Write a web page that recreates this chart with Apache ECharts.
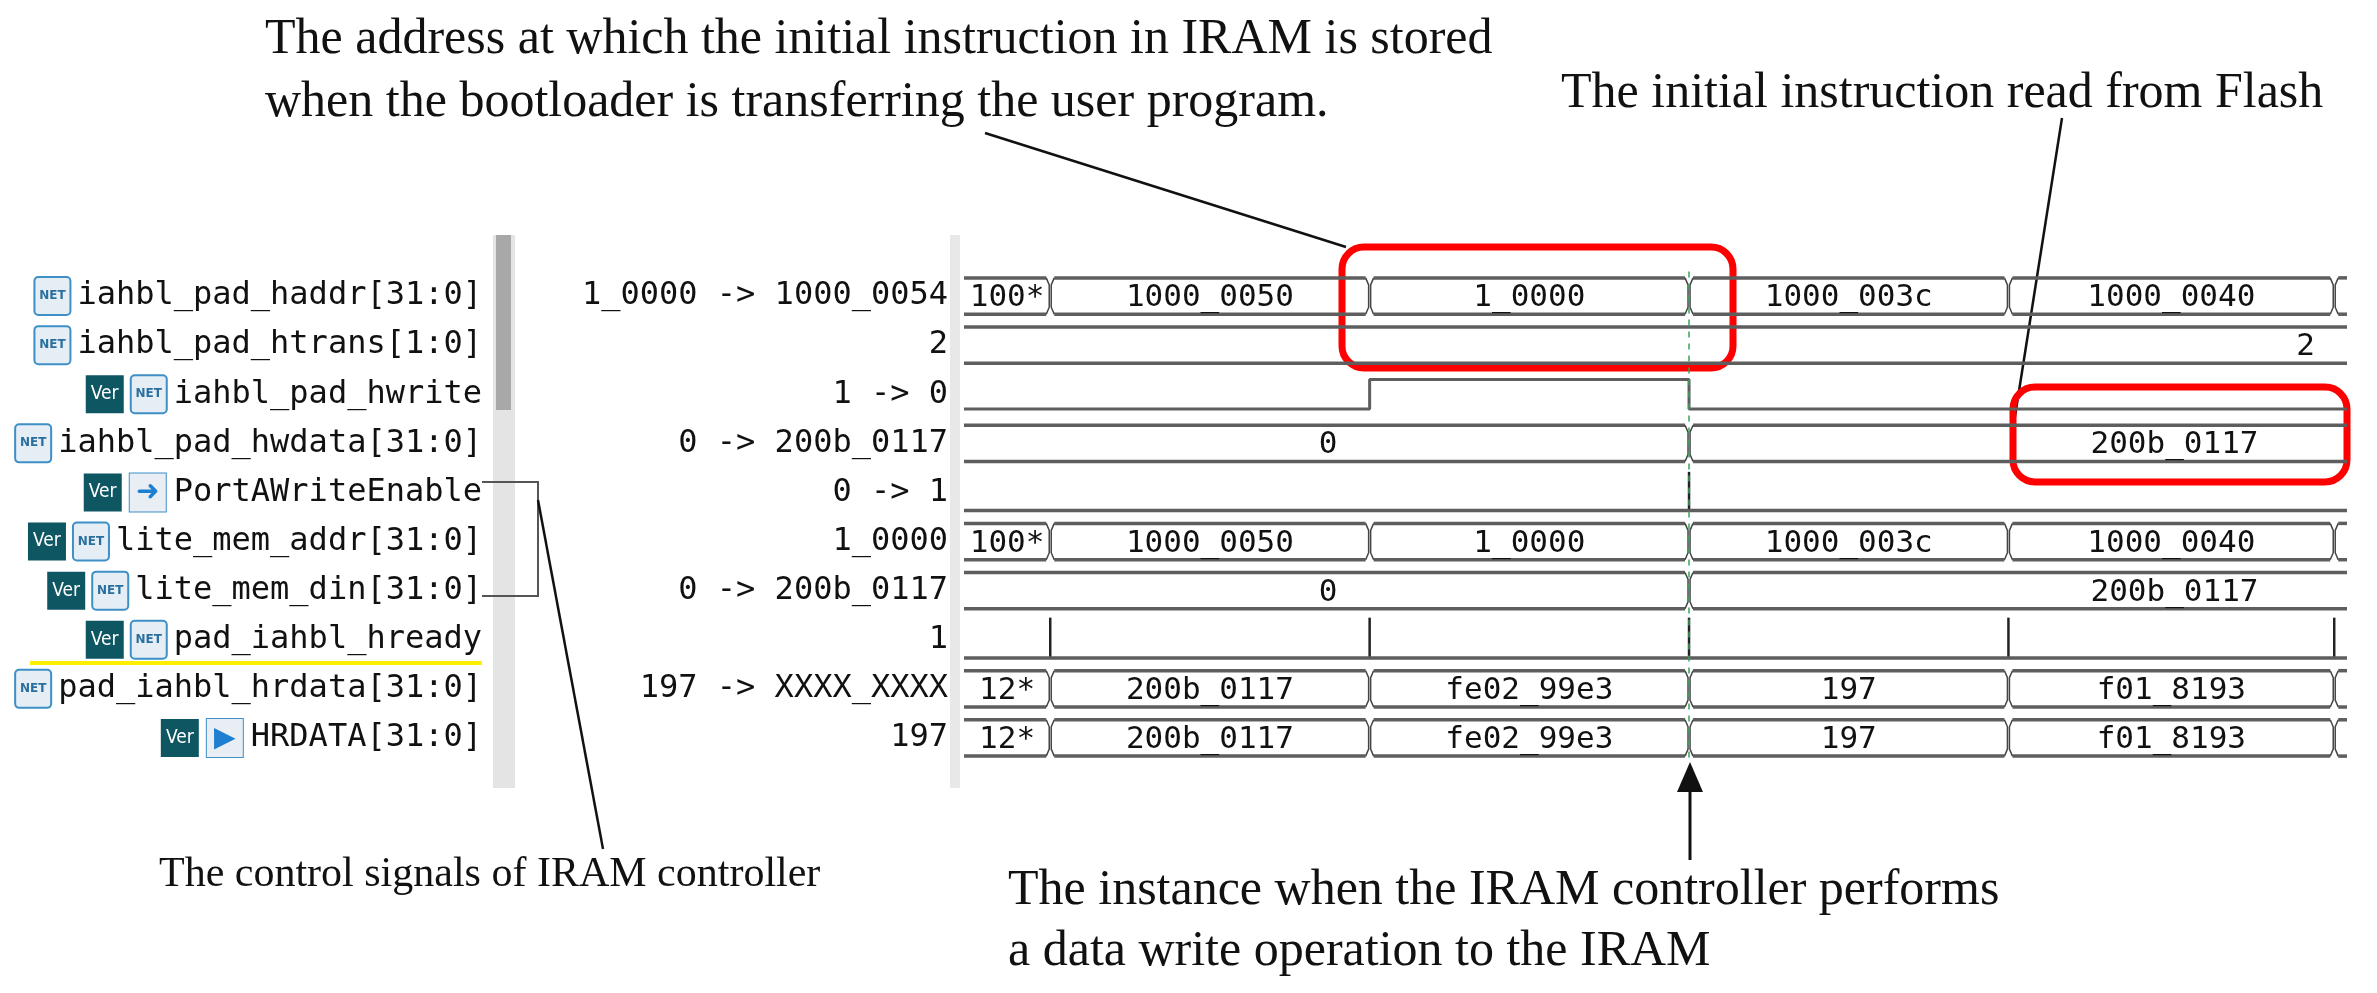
<!DOCTYPE html>
<html><head><meta charset="utf-8">
<script src="https://cdn.jsdelivr.net/npm/echarts@6/dist/echarts.min.js"></script>
<style>html,body{margin:0;padding:0;background:#fff}#c{width:2377px;height:993px}</style>
</head><body><div id="c"></div>
<script>
// ---- data ----
const signalNames = ['iahbl_pad_haddr[31:0]','iahbl_pad_htrans[1:0]','iahbl_pad_hwrite','iahbl_pad_hwdata[31:0]','PortAWriteEnable','lite_mem_addr[31:0]','lite_mem_din[31:0]','pad_iahbl_hready','pad_iahbl_hrdata[31:0]','HRDATA[31:0]'];
const signalIcons = [['net'],['net'],['ver','net'],['net'],['ver','pin'],['ver','net'],['ver','net'],['ver','net'],['net'],['ver','pout']];
const cursorValues = ['1_0000 -> 1000_0054','2','1 -> 0','0 -> 200b_0117','0 -> 1','1_0000','0 -> 200b_0117','1','197 -> XXXX_XXXX','197'];
const tStart = -0.27, tEnd = 4.06, tCursor = 2;
const addrBounds = [-0.27, 0, 1, 2, 3, 4.02, 4.06];
const haddrVals = ['100*','1000_0050','1_0000','1000_003c','1000_0040',''];
const memAddrVals = ['100*','1000_0050','1_0000','1000_003c','1000_0040',''];
const hrdataVals = ['12*','200b_0117','fe02_99e3','197','f01_8193',''];
const HRDATAVals = ['12*','200b_0117','fe02_99e3','197','f01_8193',''];
const htransBounds = [-0.27, 4.06]; const htransVals = ['2']; const htransLabelAt = [3.93];
const wdataBounds = [-0.27, 2, 4.06]; const hwdataVals = ['0','200b_0117']; const dinVals = ['0','200b_0117'];
const wdataLabelAt = [0.87, 3.52];
const hwriteTimes = [-0.27, 1, 2, 4.06]; const hwriteLevels = [0, 1, 0, 0];
const portAWETimes = [2];
const hreadyTimes = [0, 1, 2, 3, 4.02];

// ---- build items ----
const busItems = [];
function addBus(row, bounds, vals, labelAt){
  for (let i=0;i<vals.length;i++){
    busItems.push([row, bounds[i], bounds[i+1], vals[i], labelAt ? labelAt[i] : (bounds[i]+bounds[i+1])/2]);
  }
}
addBus(0, addrBounds, haddrVals);
addBus(1, htransBounds, htransVals, htransLabelAt);
addBus(3, wdataBounds, hwdataVals, wdataLabelAt);
addBus(5, addrBounds, memAddrVals);
addBus(6, wdataBounds, dinVals, wdataLabelAt);
addBus(8, addrBounds, hrdataVals);
addBus(9, addrBounds, HRDATAVals);

const H = 0.37;
const hwriteLine = [];
for (let i=0;i<hwriteTimes.length;i++) hwriteLine.push([hwriteTimes[i], 2 + 0.3 - 0.6*hwriteLevels[i]]);
const tickItems = [];
portAWETimes.forEach(t=>tickItems.push([4, t, -0.42, H]));
hreadyTimes.forEach(t=>tickItems.push([7, t, -0.45, H]));

const mono = "'DejaVu Sans Mono', 'Liberation Mono', monospace";
const serif = "'Liberation Serif', 'DejaVu Serif', serif";
const lineCol = '#5e5e5e';

function iconRich(){
  return {
    net:{backgroundColor:'#e6eef5',borderColor:'#3d8fc6',borderWidth:2,borderRadius:3,color:'#2a6f9e',fontSize:12,fontWeight:'bold',width:34,height:36,align:'center',fontFamily:'DejaVu Sans'},
    ver:{backgroundColor:'#0f5663',color:'#ffffff',fontSize:19,width:38,height:38,align:'center',fontFamily:'DejaVu Sans Condensed'},
    pin:{backgroundColor:'#e8eef4',borderColor:'#3d8fc6',borderWidth:1,color:'#1e7fd0',fontSize:28,width:36,height:38,align:'center'},
    pout:{backgroundColor:'#e8eef4',borderColor:'#3d8fc6',borderWidth:1,color:'#1e7fd0',fontSize:28,width:36,height:38,align:'center'},
    sp:{width:8},
    nm:{fontFamily:mono,fontSize:32,color:'#111'}
  };
}
const iconText = {net:'NET',ver:'Ver',pin:'➜',pout:'▶'};

const chart = echarts.init(document.getElementById('c'));
chart.setOption({
  animation:false,
  backgroundColor:'#fff',
  grid:{left:964,right:30,top:271.5,bottom:230.5},
  xAxis:{type:'value',min:tStart,max:tEnd,show:false},
  yAxis:[
    {type:'value',min:-0.5,max:9.5,inverse:true,show:false},
    {type:'category',data:signalNames,inverse:true,position:'left',axisLine:{show:false},axisTick:{show:false},
     axisLabel:{margin:482,align:'right',rich:iconRich(),
       formatter:(v,i)=>signalIcons[i].map(k=>'{'+k+'|'+iconText[k]+'}').join('{sp| }')+'{sp| }{nm|'+v+'}'}},
    {type:'category',data:cursorValues,inverse:true,position:'left',axisLine:{show:false},axisTick:{show:false},
     axisLabel:{margin:16,fontFamily:mono,fontSize:32,color:'#111'}}
  ],
  series:[
    {type:'custom',yAxisIndex:0,data:busItems,clip:false,
     renderItem:function(params,api){
       const row=api.value(0), t0=api.value(1), t1=api.value(2);
       const label=busItems[params.dataIndex][3], lt=busItems[params.dataIndex][4];
       const a=api.coord([t0,row-H]), b=api.coord([t1,row+H]);
       const x0=a[0], x1=b[0], yt=a[1], yb=b[1];
       const w=4;
       const lx0 = t0<=tStart? x0 : x0+w, lx1 = t1>=tEnd? x1 : x1-w;
       const ch=[
         {type:'line',shape:{x1:lx0,y1:yt,x2:lx1,y2:yt},style:{stroke:lineCol,lineWidth:3.5}},
         {type:'line',shape:{x1:lx0,y1:yb,x2:lx1,y2:yb},style:{stroke:lineCol,lineWidth:3.5}}
       ];
       if (t0>tStart) ch.push({type:'polyline',shape:{points:[[x0+w,yt],[x0+1,yt+7],[x0+1,yb-7],[x0+w,yb]]},style:{stroke:'#444',lineWidth:1.5,fill:null}});
       if (t1<tEnd) ch.push({type:'polyline',shape:{points:[[x1-w,yt],[x1-1,yt+7],[x1-1,yb-7],[x1-w,yb]]},style:{stroke:'#444',lineWidth:1.5,fill:null}});
       if (label){
         const p=api.coord([lt,row]);
         ch.push({type:'text',x:p[0],y:p[1]+2,style:{text:label,font:'31px '+mono,fill:'#111',align:'center',verticalAlign:'middle'}});
       }
       return {type:'group',children:ch};
     }},
    {type:'line',yAxisIndex:0,step:'end',data:hwriteLine,symbol:'none',lineStyle:{color:lineCol,width:3}},
    {type:'line',yAxisIndex:0,data:[[tStart,4+H],[tEnd,4+H]],symbol:'none',lineStyle:{color:lineCol,width:3.5}},
    {type:'line',yAxisIndex:0,data:[[tStart,7+H],[tEnd,7+H]],symbol:'none',lineStyle:{color:lineCol,width:3.5}},
    {type:'custom',yAxisIndex:0,data:tickItems,
     renderItem:function(params,api){
       const a=api.coord([api.value(1),api.value(0)+api.value(2)]), b=api.coord([api.value(1),api.value(0)+api.value(3)]);
       return {type:'line',shape:{x1:a[0],y1:a[1],x2:b[0],y2:b[1]},style:{stroke:'#222',lineWidth:2.5}};
     }},
    {type:'line',yAxisIndex:0,data:[],markLine:{symbol:'none',silent:true,label:{show:false},
      lineStyle:{color:'#3aa35a',type:[6,6],width:1.5},data:[{xAxis:tCursor}]}}
  ],
  graphic:[
    {type:'rect',shape:{x:493,y:235,width:22,height:553},style:{fill:'#e4e4e4'}},
    {type:'rect',shape:{x:496,y:235,width:15,height:175},style:{fill:'#a8a8a8'}},
    {type:'rect',shape:{x:950,y:235,width:10,height:553},style:{fill:'#e8e8e8'}},
    {type:'line',shape:{x1:30,y1:663,x2:482,y2:663},style:{stroke:'#ffee00',lineWidth:4}},
    {type:'text',x:265,y:40,style:{text:'The address at which the initial instruction in IRAM is stored',font:'50px '+serif,fill:'#111',verticalAlign:'middle'}},
    {type:'text',x:265,y:103,style:{text:'when the bootloader is transferring the user program.',font:'50px '+serif,fill:'#111',verticalAlign:'middle'}},
    {type:'text',x:1561,y:94,style:{text:'The initial instruction read from Flash',font:'50px '+serif,fill:'#111',verticalAlign:'middle'}},
    {type:'text',x:159,y:875,style:{text:'The control signals of IRAM controller',font:'42px '+serif,fill:'#111',verticalAlign:'middle'}},
    {type:'text',x:1008,y:891,style:{text:'The instance when the IRAM controller performs',font:'50px '+serif,fill:'#111',verticalAlign:'middle'}},
    {type:'text',x:1008,y:952,style:{text:'a data write operation to the IRAM',font:'50px '+serif,fill:'#111',verticalAlign:'middle'}},
    {type:'line',shape:{x1:985,y1:133,x2:1346,y2:247},style:{stroke:'#111',lineWidth:2.5}},
    {type:'line',shape:{x1:2062,y1:118,x2:2013,y2:429},style:{stroke:'#111',lineWidth:2.5}},
    {type:'polyline',shape:{points:[[482,482],[538,482],[538,596],[482,596]]},style:{stroke:'#555',lineWidth:2,fill:null}},
    {type:'line',shape:{x1:538,y1:500,x2:603,y2:849},style:{stroke:'#111',lineWidth:2.5}},
    {type:'line',shape:{x1:1690,y1:860,x2:1690,y2:790},style:{stroke:'#111',lineWidth:3}},
    {type:'polygon',shape:{points:[[1690,762],[1677,792],[1703,792]]},style:{fill:'#111'}},
    {type:'rect',shape:{x:1342,y:247,width:391,height:121,r:22},style:{stroke:'#ff0000',lineWidth:7,fill:null}},
    {type:'rect',shape:{x:2013,y:387,width:334,height:95,r:22},style:{stroke:'#ff0000',lineWidth:7,fill:null}}
  ]
});
</script></body></html>
